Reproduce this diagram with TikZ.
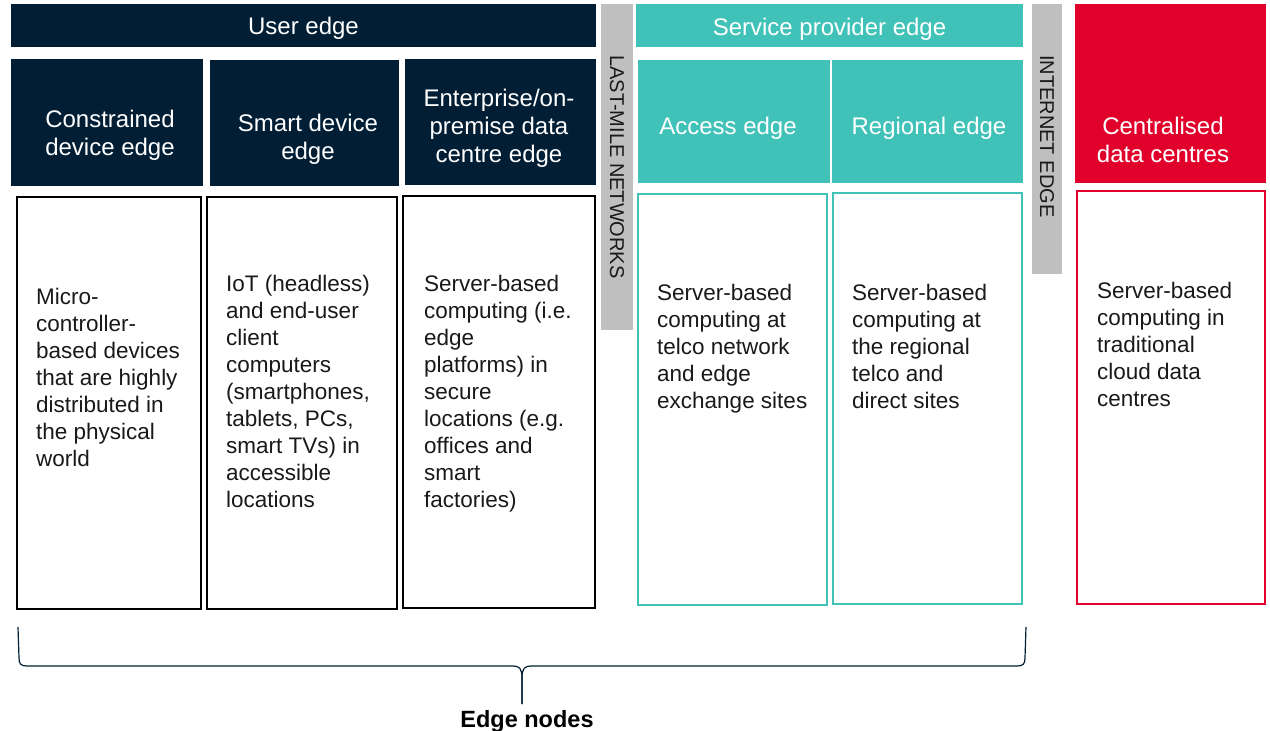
\documentclass[tikz,border=0pt]{standalone}
\usepackage{fontspec}
\setmainfont{Liberation Sans}
\usepackage{tikz}
\definecolor{usernavy}{RGB}{2,30,52}
\definecolor{provteal}{RGB}{64,194,184}
\definecolor{dcred}{RGB}{224,0,43}
\definecolor{bargray}{RGB}{191,191,191}

\begin{document}
\begin{tikzpicture}[x=1pt,y=-1pt,
  hdr/.style={text=white,align=center,inner sep=0pt,font=\fontsize{24}{28}\selectfont},
  txt/.style={anchor=north west,inner sep=0pt,align=left,text=black!90,font=\fontsize{22.5}{27}\selectfont},
  side/.style={rotate=-90,anchor=west,inner sep=0pt,text=black!90,font=\fontsize{20}{24}\selectfont},
  ubox/.style={draw=black,line width=2.2pt},
  pbox/.style={draw=provteal,line width=2.2pt},
  cbox/.style={draw=dcred,line width=2pt}]
\useasboundingbox (0,0) rectangle (1270,731);

\fill[usernavy] (11,4) rectangle (596,47);
\node[hdr] (user) at (303.5,28.5) {User edge};
\fill[bargray] (601,4) rectangle (633,330);
\node[side] (lastmile) at (617,55) {LAST-MILE NETWORKS};
\fill[provteal] (636,4) rectangle (1023,47);
\node[hdr] (provider) at (829.5,29) {Service provider edge};
\fill[bargray] (1032,4) rectangle (1062,274);
\node[side] (internet) at (1047,55) {INTERNET EDGE};

\fill[usernavy] (11,59) rectangle (203,186);
\node[hdr] (constrained) at (110,135) {Constrained\\device edge};
\fill[usernavy] (210,60) rectangle (399,186);
\node[hdr] (smart) at (308,139) {Smart device\\edge};
\fill[usernavy] (405,59) rectangle (596,185);
\node[hdr] (enterprise) at (499,128) {Enterprise/on-\\premise data\\centre edge};
\fill[provteal] (638,60) rectangle (830,183);
\node[hdr] (access) at (728,128) {Access edge};
\fill[provteal] (832,60) rectangle (1023,183);
\node[hdr] (regional) at (929,128) {Regional edge};
\fill[dcred] (1075,4) rectangle (1266,183);
\node[hdr] (central) at (1163,140) {Centralised\\data centres};

\draw[ubox] (17,197) rectangle (201,609);
\draw[ubox] (207,197) rectangle (397,609);
\draw[ubox] (403,196) rectangle (595,608);
\draw[pbox] (638,194) rectangle (827,605);
\draw[pbox] (833,193) rectangle (1022,604);
\draw[cbox] (1077,191) rectangle (1265,604);

\node[txt] (constrainedtxt) at (36,288) {Micro-\\controller-\\based devices\\that are highly\\distributed in\\the physical\\world};
\node[txt] (smarttxt) at (226,275) {IoT (headless)\\and end-user\\client\\computers\\(smartphones,\\tablets, PCs,\\smart TVs) in\\accessible\\locations};
\node[txt] (enterprisetxt) at (424,275) {Server-based\\computing (i.e.\\edge\\platforms) in\\secure\\locations (e.g.\\offices and\\smart\\factories)};
\node[txt] (accesstxt) at (657,284) {Server-based\\computing at\\telco network\\and edge\\exchange sites};
\node[txt] (regionaltxt) at (852,284) {Server-based\\computing at\\the regional\\telco and\\direct sites};
\node[txt] (centraltxt) at (1097,282) {Server-based\\computing in\\traditional\\cloud data\\centres};

\coordinate (bl) at (18,627);
\coordinate (br) at (1026,627);
\coordinate (tip) at (522,704);
\draw[usernavy,line width=1.2pt] (bl) -- (19,658) .. controls (19,664) and (21,666) .. (27,666)
  -- (513,666) .. controls (519,666) and (522,668) .. (522,678) -- (tip);
\draw[usernavy,line width=1.2pt] (tip) -- (522,678) .. controls (522,668) and (525,666) .. (531,666)
  -- (1017,666) .. controls (1023,666) and (1025,664) .. (1025,658) -- (br);
\node[font=\bfseries\fontsize{23.5}{28}\selectfont] (edgenodes) at (527,721) {Edge nodes};
\end{tikzpicture}
\end{document}
